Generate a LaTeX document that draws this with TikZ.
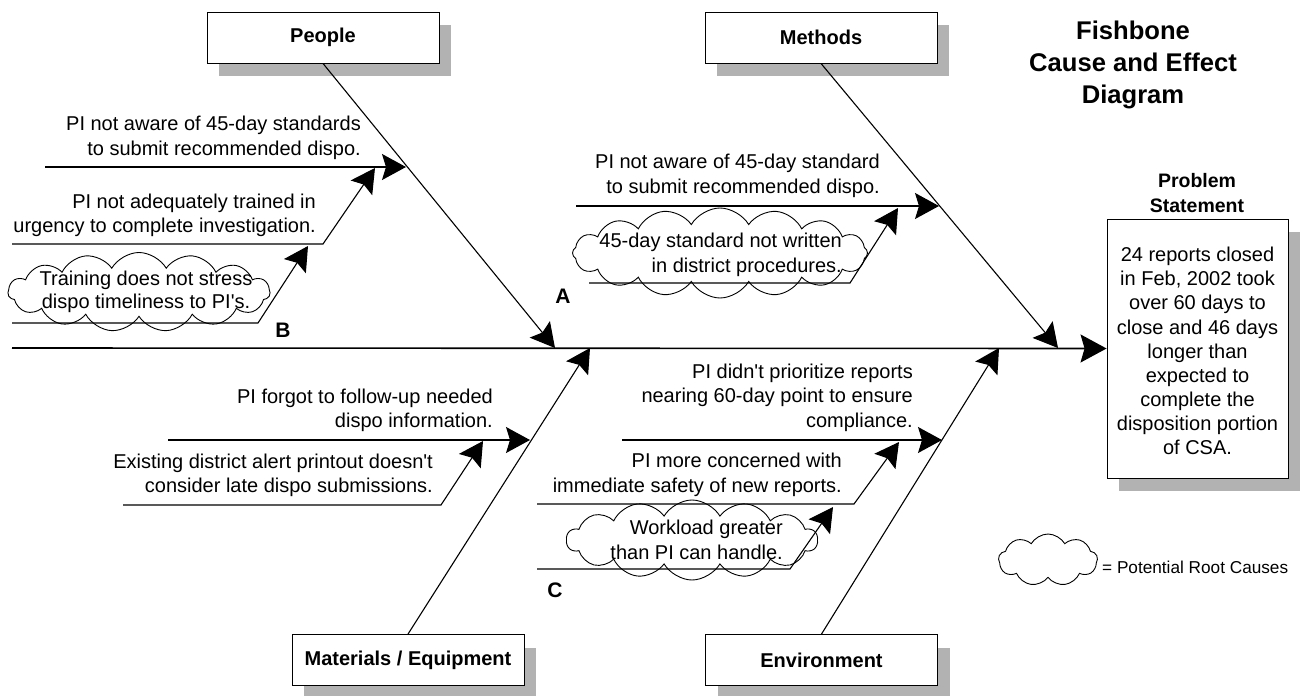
\documentclass[tikz,border=0pt]{standalone}
\usepackage{fontspec}
\setmainfont{Liberation Sans}[Ligatures=TeXOff]
\usetikzlibrary{shapes.symbols, arrows.meta, shadows}
\definecolor{shadowgray}{RGB}{178,178,178}

\begin{document}
\begin{tikzpicture}[x=1pt, y=-1pt,
  catbox/.style={draw, fill=white, line width=0.9pt, minimum width=232pt, minimum height=51pt,
    inner sep=0pt, font=\fontsize{20}{24}\selectfont\bfseries,
    drop shadow={shadow xshift=12pt, shadow yshift=-13pt, fill=shadowgray, opacity=1}},
  probbox/.style={draw, fill=white, line width=0.9pt, minimum width=181pt, minimum height=259pt,
    inner sep=0pt,
    drop shadow={shadow xshift=12pt, shadow yshift=-13pt, fill=shadowgray, opacity=1}},
  cause/.style={inner sep=0pt, align=right, anchor=east, font=\fontsize{20}{24.5}\selectfont},
  rootcloud/.style={cloud, draw, line width=0.9pt, cloud ignores aspect, inner sep=0pt, cloud puff arc=120},
  tipped/.style={line width=1.1pt, -{Stealth[length=24pt, width=26pt, inset=4pt]}},
  spine/.style={line width=1.6pt, -{Stealth[length=26pt, width=28pt, inset=4pt]}},
  letter/.style={inner sep=0pt, font=\fontsize{21}{21}\selectfont\bfseries}
]
\useasboundingbox (0,0) rectangle (1304,696);

% category boxes
\node[catbox] (people) at (323,37.5) {People};
\node[catbox] (methods) at (821,37.5) {Methods};
\node[catbox] (materials) at (408,660) {Materials / Equipment};
\node[catbox] (environment) at (821.5,660) {Environment};

% effect box
\node[probbox] (problem) at (1197.5,348.5) {};
\node[align=center, inner sep=0pt, font=\fontsize{20}{24.1}\selectfont] (probtext) at (1197.5,351)
  {24 reports closed\\in Feb, 2002 took\\over 60 days to\\close and 46 days\\longer than\\expected to\\complete the\\disposition portion\\of CSA.};
\node[align=center, inner sep=0pt, font=\fontsize{19.5}{25}\selectfont\bfseries] (probhead) at (1197,193) {Problem\\Statement};

% title
\node[align=center, inner sep=0pt, font=\fontsize{25.6}{32}\selectfont\bfseries] (title) at (1133,65)
  {Fishbone\\Cause and Effect\\Diagram};

% root-cause clouds
\node[rootcloud, cloud puffs=15, minimum width=262pt, minimum height=79pt] (cloudB) at (139,292) {};
\node[rootcloud, cloud puffs=16, minimum width=295pt, minimum height=90pt] (cloudA) at (720,253) {};
\node[rootcloud, cloud puffs=14, minimum width=251pt, minimum height=80pt] (cloudC) at (692,540) {};
\node[rootcloud, cloud puffs=9, minimum width=99pt, minimum height=52pt] (legcloud) at (1048,560) {};
\node[anchor=west, inner sep=0pt, font=\fontsize{17.2}{20}\selectfont] (legtext) at (1102,567) {= Potential Root Causes};

% spine and main bones
\coordinate (tail) at (12,348);
\coordinate (pjoin) at (555,348);
\coordinate (mjoin) at (1058,348);
\coordinate (ejoin) at (590,348);
\coordinate (vjoin) at (999,348);
\draw[spine] (tail) -- (problem.west);
\draw[tipped] (people.south) -- (pjoin);
\draw[tipped] (methods.south) -- (mjoin);
\draw[tipped] (materials.north) -- (ejoin);
\draw[tipped] (environment.north) -- (vjoin);

% People causes
\coordinate (p1s) at (45,167);   \coordinate (p1t) at (406,167);
\coordinate (p2s) at (12,244);   \coordinate (p2b) at (323,244); \coordinate (p2t) at (375,168);
\coordinate (p3s) at (12,323);   \coordinate (p3b) at (258,323); \coordinate (p3t) at (308,246);
\draw[tipped] (p1s) -- (p1t);
\draw[tipped] (p2s) -- (p2b) -- (p2t);
\draw[tipped] (p3s) -- (p3b) -- (p3t);
\node[cause] (p1) at (361,138) {PI not aware of 45-day standards\\to submit recommended dispo.};
\node[cause] (p2) at (316,215.5) {PI not adequately trained in\\urgency to complete investigation.};
\node[inner sep=0pt, align=center, font=\fontsize{20}{23.5}\selectfont] (p3) at (146,292) {Training does not stress\\dispo timeliness to PI's.};

% Methods causes
\coordinate (m1s) at (576,206);  \coordinate (m1t) at (939,206);
\coordinate (m2s) at (589,283);  \coordinate (m2b) at (850,283); \coordinate (m2t) at (898,208);
\draw[tipped] (m1s) -- (m1t);
\draw[tipped] (m2s) -- (m2b) -- (m2t);
\node[cause] (m1) at (880,176) {PI not aware of 45-day standard\\to submit recommended dispo.};
\node[cause] (m2) at (842,255) {45-day standard not written\\in district procedures.};

% Materials / Equipment causes
\coordinate (e1s) at (168,440);  \coordinate (e1t) at (530,440);
\coordinate (e2s) at (123,505);  \coordinate (e2b) at (441,505); \coordinate (e2t) at (483,441);
\draw[tipped] (e1s) -- (e1t);
\draw[tipped] (e2s) -- (e2b) -- (e2t);
\node[cause] (e1) at (493,410.5) {PI forgot to follow-up needed\\dispo information.};
\node[cause] (e2) at (433,475.5) {Existing district alert printout doesn't\\consider late dispo submissions.};

% Environment causes
\coordinate (v1s) at (622,440);  \coordinate (v1t) at (942,440);
\coordinate (v2s) at (537,504);  \coordinate (v2b) at (854,504); \coordinate (v2t) at (899,442);
\coordinate (v3s) at (537,569);  \coordinate (v3b) at (790,569); \coordinate (v3t) at (833,507);
\draw[tipped] (v1s) -- (v1t);
\draw[tipped] (v2s) -- (v2b) -- (v2t);
\draw[tipped] (v3s) -- (v3b) -- (v3t);
\node[cause] (v1) at (913,397.5) {PI didn't prioritize reports\\nearing 60-day point to ensure\\compliance.};
\node[cause] (v2) at (842,475) {PI more concerned with\\immediate safety of new reports.};
\node[cause] (v3) at (783,540) {Workload greater\\than PI can handle.};

% letters
\node[letter] (la) at (563,296) {A};
\node[letter] (lb) at (283,330) {B};
\node[letter] (lc) at (555,590) {C};
\end{tikzpicture}
\end{document}
